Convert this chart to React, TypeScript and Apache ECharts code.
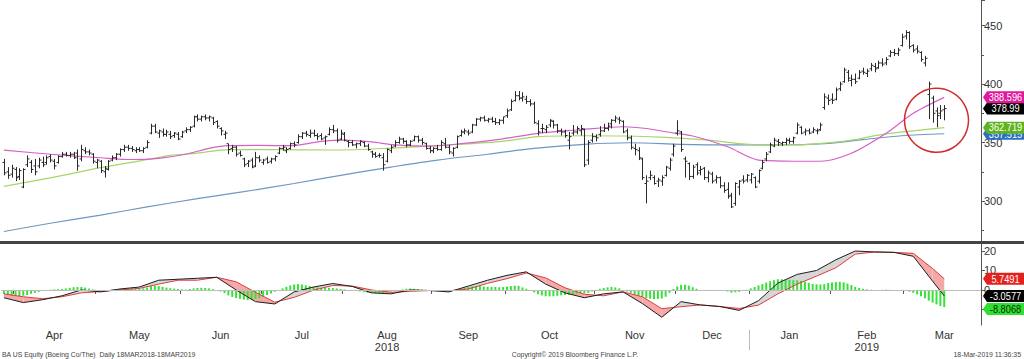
import React, { useEffect, useRef } from "react";
import * as echarts from "echarts";

// ---------- axis layout data ----------
const SLOT_COUNT = 253; // trading-day slots on the x axis (incl. blank space at right)
const monthStarts = [3, 24, 46, 67, 88, 111, 130, 153, 174, 193, 214, 233];
const monthNames = ["Apr", "May", "Jun", "Jul", "Aug", "Sep", "Oct", "Nov", "Dec", "Jan", "Feb", "Mar"];
const yearUnder: Record<string, string> = { Aug: "2018", Feb: "2019" };
const yearStartIndex = 193;

// ---------- daily OHLC bars [open, high, low, close] ----------
const bars: number[][] = [
  // Mar 2018
  [333,336,322,324],[325,329,319,322],[323,331,320,328],
  // Apr
  [327,329,317,320],[321,328,318,326],[312,328,311,327],[331,339,329,336],[333,335,324,327],
  [330,336,322,325],[330,337,328,335],[333,338,329,331],[333,339,331,337],[338,340,333,335],
  [334,336,327,330],[333,339,332,338],[338,342,337,340],[340,342,338,339],[339,342,337,340],
  [340,342,336,337],[341,344,326,330],[336,348,334,344],[343,346,340,342],[342,344,339,341],
  [340,341,332,334],
  // May
  [333,336,328,335],[334,335,324,326],[325,330,320,328],[327,335,326,334],
  [335,339,334,337],[337,341,335,340],[340,345,338,344],[344,348,342,346],[346,348,343,345],
  [345,347,342,344],[343,346,341,344],[344,346,342,343],[343,346,341,345],[346,352,345,350],
  [358,366,357,364],[364,366,358,359],[358,361,354,360],[359,362,355,357],[357,361,355,359],
  [357,360,353,355],[356,359,354,358],[357,359,352,353],
  // Jun
  [355,360,354,359],
  [360,363,358,361],[361,364,359,363],[364,373,363,372],[372,374,368,370],[370,373,368,372],
  [372,374,369,371],[371,373,368,372],[371,372,365,367],[368,369,362,364],[362,363,356,360],
  [357,360,353,358],[349,349,340,344],[345,348,342,346],[346,347,338,340],[341,343,338,339],
  [336,337,329,331],[332,335,329,334],[335,337,328,329],[330,342,329,337],[337,339,333,335],
  // Jul
  [333,336,331,335],[336,338,332,333],[334,337,332,336],[336,339,334,338],
  [341,346,340,345],[345,348,343,346],[343,346,341,344],[345,350,344,349],[349,351,346,348],
  [350,357,349,355],[355,359,353,358],[358,360,355,357],[356,361,354,358],[358,361,355,356],
  [356,358,352,355],[356,358,352,353],[354,356,348,355],[357,363,356,361],[361,365,358,360],
  [360,362,350,352],[353,361,352,358],
  // Aug
  [357,359,351,352],[351,352,346,350],[350,352,347,348],
  [348,350,345,349],[349,352,347,351],[350,351,346,347],[347,349,343,344],[342,343,337,340],
  [340,342,337,338],[339,341,337,339],[337,341,326,331],[334,345,333,344],[343,348,341,346],
  [347,352,346,350],[350,355,349,353],[353,354,349,351],[351,352,346,348],[348,352,347,351],
  [352,356,351,355],[355,356,350,352],[352,354,348,350],[349,350,344,345],[345,347,341,343],
  // Sep
  [343,346,341,345],[345,348,343,344],[344,352,343,350],[349,354,345,346],
  [346,348,340,342],[341,346,338,345],[346,356,345,355],[356,361,355,359],[359,362,357,360],
  [359,361,356,358],[359,366,358,365],[365,371,364,370],[370,372,368,371],[371,373,368,369],
  [369,371,367,370],[370,372,367,368],[368,371,365,367],[367,370,365,369],[369,372,366,372],
  // Oct
  [373,379,371,377],[378,387,377,385],[386,394,385,390],[390,394,386,388],[388,393,385,389],
  [387,390,383,385],[385,387,381,383],[383,385,366,367],[366,369,356,359],[362,366,358,362],
  [361,365,358,363],[365,370,363,369],[368,369,362,365],[365,366,358,360],[360,362,356,359],
  [359,361,354,356],[352,359,344,355],[358,365,356,359],[359,364,357,362],[360,365,356,362],
  [361,362,329,331],[335,352,331,350],[352,358,350,355],
  // Nov
  [355,357,351,354],[357,364,355,360],
  [360,366,359,362],[362,367,360,364],[366,370,362,369],[369,373,367,371],[370,372,366,369],
  [368,369,358,359],[360,362,352,354],[354,356,344,346],[345,349,339,344],[343,346,335,337],
  [336,337,318,320],[315,322,298,317],[320,326,318,322],[320,322,314,315],
  [317,320,312,318],[317,322,313,320],[322,330,321,329],[328,337,326,335],[340,349,338,347],
  // Dec
  [358,369,356,360],[359,360,342,344],[336,338,320,334],[332,333,318,321],
  [321,331,319,329],[331,333,322,324],[326,330,322,327],[328,329,318,320],[320,326,316,324],
  [323,325,315,317],[318,322,315,320],[320,321,311,313],[313,316,307,309],[310,316,302,304],
  [305,307,294,295],[298,316,296,315],[312,318,305,317],[318,322,315,317],
  [318,323,316,322],
  // Jan 2019
  [318,324,315,323],[320,321,311,312],[317,327,315,326],
  [328,335,327,333],[336,342,334,340],[342,350,341,348],[347,354,346,352],[351,353,347,350],
  [349,351,347,350],[350,354,348,352],[352,354,349,351],[351,355,349,354],[358,367,357,365],
  [363,364,357,358],[359,362,356,360],[360,362,357,358],[359,363,358,361],
  [360,362,357,360],[361,367,360,365],[380,392,378,389],[388,391,382,386],
  // Feb
  [387,392,383,386],
  [387,397,386,395],[396,402,394,400],[402,414,401,412],[410,412,402,405],[403,408,398,404],
  [404,409,400,402],[405,412,404,410],[411,414,408,410],[409,413,406,411],[413,418,411,416],
  [415,418,410,413],[414,420,413,418],[418,422,415,417],[418,423,416,421],
  [424,429,423,427],[427,430,424,426],[426,431,424,429],[433,443,432,440],
  // Mar
  [441,446,438,444],
  [444,445,430,432],[433,434,427,429],[430,433,426,428],[427,428,419,421],[418,424,415,422],
  [391,402,370,400],[388,390,367,375],[377,380,363,373],[375,382,370,377],[378,382,369,378.99],
];

// ---------- moving averages [dayIndex, value] ----------
const ma50Pts: number[][] = [
  [0,343.5],[12,340],[25,337],[33,335.5],[40,336.5],[47,340],[53,345],[58,347.3],[66,347.5],[74,347.3],
  [82,351],[88,352],[95,350.5],[101,348],[110,347],[119,349.3],[128,352.7],[138,357.9],[148,360.7],
  [160,363.5],[166,362],[171,359.2],[178,355.6],[187,346.4],[195,335],[204,334],[211,334],[219,340.8],
  [228,357.9],[235,375],[243,388.596],
];
const ma100Pts: number[][] = [
  [0,312.5],[13,320.5],[25,328.5],[38,336],[43,339],[50,341],[58,344],[70,344],[85,343.6],[99,345],
  [113,347.5],[128,350.7],[138,355],[150,355.8],[160,355.6],[171,354.4],[182,352.1],[195,348],[205,348],
  [213,349.8],[220,352.5],[226,356.4],[235,360],[243,362.719],
];
const ma200Pts: number[][] = [
  [0,274],[12,281],[25,288],[37,295],[50,302],[62,308],[75,315],[87,322],[100,329],[112,335],[125,340],
  [137,345],[150,348.5],[162,349.8],[175,348.5],[187,348],[200,348],[212,349],[222,352.5],[232,355.8],
  [243,357.515],
];

// ---------- MACD pane ----------
const macdPts: number[][] = [
  [0,-4],[5,-6.5],[10,-5],[15,-3],[20,0],[25,-1],[30,0.5],[35,1.5],[40,5],[45,5.5],[50,6],[55,6.5],
  [60,0],[65,-6],[70,-7.2],[75,-1],[80,1.5],[85,3.3],[90,1.8],[95,-1.5],[100,-2],[105,0],[110,-0.3],
  [115,-1],[120,2],[125,5],[130,7.5],[135,9.3],[140,3],[145,-1.5],[150,-4],[155,-2],[160,-1],[165,-7],
  [170,-14],[175,-6],[180,-7.7],[185,-8.5],[190,-10.5],[195,-5.5],[200,3.5],[205,8],[210,10],[215,15.5],
  [220,20],[225,19.5],[230,19.3],[235,17.3],[240,4.5],[243,-3.0577],
];
const signalPts: number[][] = [
  [0,-2],[5,-3.5],[10,-4.5],[15,-3.5],[20,-1.5],[25,-0.8],[30,0],[35,0.8],[40,3],[45,5],[50,5],[55,6.5],
  [60,4.2],[65,-1.2],[70,-6.3],[75,-3.8],[80,-0.1],[85,2.3],[90,2],[95,0],[100,-1.2],[105,-0.7],[110,-0.3],
  [115,-0.4],[120,0.5],[125,3.4],[130,5.8],[135,8.7],[140,6.2],[145,1.1],[150,-2.2],[155,-3],[160,-1],
  [165,-3.5],[170,-9.6],[175,-8.6],[180,-7.7],[185,-8.5],[190,-9.5],[195,-7.8],[200,-2],[205,3],[210,7.1],
  [215,11.4],[220,18.4],[225,19.5],[230,19.3],[235,18.8],[240,11],[243,5.7491],
];
const histogram: number[] = [
  -2,-2.5,-3,-3,-3.2, -3,-2.6,-2,-1.5,-1, -0.5,-0.2,0.1,0.3,0.4, 0.5,0.8,1.1,1.4,1.5,
  1.5,1.2,0.7,0.3,0, -0.2,-0.2,0,0.2,0.4, 0.5,0.6,0.6,0.7,0.7, 0.7,0.8,1.2,2,2.2,
  2,1.6,1.2,0.9,0.7, 0.5,0.3,0.2,0.5,0.8, 1,1.1,1,0.8,0.4, 0,-0.8,-1.6,-2.8,-3.6,
  -4.2,-4.6,-5,-5.2,-5.1, -4.8,-4.2,-3.5,-2.6,-1.8, -0.9,0,0.8,1.6,2.3, 2.8,3,2.8,2.4,2,
  1.6,1.3,1.1,1,1.1, 1,0.8,0.5,0.3,0, -0.2,-0.5,-0.8,-1.1,-1.4, -1.5,-1.6,-1.8,-1.9,-1.2,
  -0.8,-0.4,0,0.3,0.6, 0.7,0.6,0.4,0.2,0.1, 0,-0.1,-0.3,-0.4,-0.5, -0.6,-0.3,0.2,0.6,1.1,
  1.5,1.8,2,2,1.8, 1.6,1.6,1.5,1.4,1.5, 1.7,2,2.2,2.1,1.3, 0.6,0,-1.2,-2.2,-2.8,
  -3.2,-3.3,-3.2,-3,-2.8, -2.6,-2.5,-2.3,-2,-1.6, -1.8,-1.5,-0.8,0,0.6, 1,1.3,1.5,1.3,0.8,
  0,-0.8,-1.5,-2.4,-3, -3.5,-4.2,-4.5,-4.7,-4.6, -4.4,-3.5,-1.5,0.5,1.8, 2.6,2.7,2.2,1.4,0.6,
  0,-0.1,-0.2,-0.1,0, 0,-0.3,-0.8,-1.4,-1.2, -1,-0.5,0.1,0.8,1.5, 2.3,3,3.8,4.5,5,
  5.5,5.5,5.3,5.2,5, 5,4.7,4.2,3.6,3.1, 2.9,2.8,3,3.6,3.9, 4.1,4.2,3.9,3.3,2.5,
  1.6,1,0.6,0.3,0.1, 0,0,0.1,0.2,0.1, 0,0,-0.2,-0.5,-0.9, -1.5,-2.3,-3.2,-4.3,-5.5,
  -6.5,-7.4,-8.2,-8.8068,
];

// annotation circle (data coords)
const circleDay = 241;
const circlePrice = 369;

const FONT = '"Liberation Sans", Arial, sans-serif';
const PINK = "#f5a8a8";
const GRAY = "#d6d6d6";

export default function App() {
  const ref = useRef<HTMLDivElement>(null);

  useEffect(() => {
    const el = ref.current!;
    const chart = echarts.init(el, undefined, { renderer: "svg" });

    const cats = Array.from({ length: SLOT_COUNT }, (_, i) => String(i));
    const labelAt: Record<number, string> = {};
    monthStarts.forEach((s, k) => {
      const e = k + 1 < monthStarts.length ? monthStarts[k + 1] : SLOT_COUNT;
      const mid = Math.floor((s + e) / 2);
      const nm = monthNames[k];
      labelAt[mid] = yearUnder[nm] ? nm + "\n" + yearUnder[nm] : nm;
    });
    const tickSet = new Set(monthStarts);

    const ohlcData = bars.map((b, i) => [i, b[0], b[1], b[2], b[3]]);
    const segs: number[][] = [];
    for (let k = 0; k < macdPts.length - 1; k++) {
      segs.push([macdPts[k][0], macdPts[k][1], signalPts[k][1], macdPts[k + 1][0], macdPts[k + 1][1], signalPts[k + 1][1]]);
    }

    const axisLineStyle = { color: "#555", width: 1 };

    const option: any = {
      animation: false,
      backgroundColor: "#ffffff",
      grid: [
        { left: 2, right: 43, top: 0, height: 242 },
        { left: 2, right: 43, top: 244, height: 81 },
      ],
      xAxis: [
        { type: "category", gridIndex: 0, data: cats, boundaryGap: true, show: false },
        {
          type: "category", gridIndex: 1, data: cats, boundaryGap: true,
          axisLine: { show: true, lineStyle: axisLineStyle },
          axisTick: { show: true, interval: (i: number) => tickSet.has(i), length: 4, lineStyle: axisLineStyle },
          axisLabel: {
            interval: (i: number) => labelAt[i] !== undefined,
            formatter: (_v: string, i: number) => labelAt[i] ?? "",
            color: "#333", fontSize: 11, fontFamily: FONT, margin: 4, lineHeight: 12,
          },
          splitLine: { show: false },
        },
      ],
      yAxis: [
        {
          type: "value", gridIndex: 0, position: "right", min: 265, max: 471.8,
          minInterval: 50, maxInterval: 50, splitNumber: 4,
          splitLine: { show: false },
          axisLine: { show: true, lineStyle: axisLineStyle },
          axisTick: { show: true, length: 4, lineStyle: axisLineStyle },
          minorTick: { show: true, splitNumber: 2, length: 3, lineStyle: axisLineStyle },
          axisLabel: { color: "#333", fontSize: 11, fontFamily: FONT, margin: 3, showMinLabel: false, showMaxLabel: false },
        },
        {
          type: "value", gridIndex: 1, position: "right", min: -18, max: 23.6,
          minInterval: 10, maxInterval: 10, splitNumber: 4,
          splitLine: { show: false },
          axisLine: { show: true, lineStyle: axisLineStyle },
          axisTick: { show: true, length: 4, lineStyle: axisLineStyle },
          axisLabel: { color: "#333", fontSize: 11, fontFamily: FONT, margin: 3, showMinLabel: false, showMaxLabel: false },
        },
      ],
      series: [
        {
          type: "line", name: "MA200", xAxisIndex: 0, yAxisIndex: 0, data: ma200Pts,
          showSymbol: false, symbol: "none", smooth: 0.3, lineStyle: { color: "#6d98c2", width: 1.2 }, z: 2,
        },
        {
          type: "line", name: "MA100", xAxisIndex: 0, yAxisIndex: 0, data: ma100Pts,
          showSymbol: false, symbol: "none", smooth: 0.3, lineStyle: { color: "#a9d46b", width: 1.2 }, z: 2,
        },
        {
          type: "line", name: "MA50", xAxisIndex: 0, yAxisIndex: 0, data: ma50Pts,
          showSymbol: false, symbol: "none", smooth: 0.3, lineStyle: { color: "#d660c8", width: 1.2 }, z: 2,
        },
        {
          type: "custom", name: "OHLC", xAxisIndex: 0, yAxisIndex: 0, data: ohlcData, clip: true, z: 5,
          encode: { x: 0, y: [1, 2, 3, 4] },
          renderItem: (_p: any, api: any) => {
            const i = api.value(0);
            const o = api.coord([i, api.value(1)]);
            const h = api.coord([i, api.value(2)]);
            const l = api.coord([i, api.value(3)]);
            const c = api.coord([i, api.value(4)]);
            const x = Math.round(h[0]) + 0.5;
            const st = { stroke: "#2a2a2a", lineWidth: 1 };
            return {
              type: "group",
              children: [
                { type: "line", shape: { x1: x, y1: h[1], x2: x, y2: l[1] }, style: st },
                { type: "line", shape: { x1: x - 2, y1: o[1], x2: x, y2: o[1] }, style: st },
                { type: "line", shape: { x1: x, y1: c[1], x2: x + 2, y2: c[1] }, style: st },
              ],
            };
          },
        },
        {
          type: "custom", name: "MACD fill", xAxisIndex: 1, yAxisIndex: 1, data: segs, clip: true, z: 2,
          encode: { x: [0, 3], y: [1, 2, 4, 5] },
          renderItem: (_p: any, api: any) => {
            const i0 = api.value(0), m0 = api.value(1), s0 = api.value(2);
            const i1 = api.value(3), m1 = api.value(4), s1 = api.value(5);
            const M0 = api.coord([i0, m0]), S0 = api.coord([i0, s0]);
            const M1 = api.coord([i1, m1]), S1 = api.coord([i1, s1]);
            const d0 = m0 - s0, d1 = m1 - s1;
            const col = (d: number) => (d >= 0 ? GRAY : PINK);
            if (d0 * d1 >= 0) {
              return { type: "polygon", shape: { points: [M0, M1, S1, S0] }, style: { fill: col(d0 + d1) } };
            }
            const t = d0 / (d0 - d1);
            const X = [M0[0] + t * (M1[0] - M0[0]), M0[1] + t * (M1[1] - M0[1])];
            return {
              type: "group",
              children: [
                { type: "polygon", shape: { points: [M0, X, S0] }, style: { fill: col(d0) } },
                { type: "polygon", shape: { points: [X, M1, S1] }, style: { fill: col(d1) } },
              ],
            };
          },
        },
        {
          type: "bar", name: "Histogram", xAxisIndex: 1, yAxisIndex: 1, data: histogram, barWidth: 2, z: 3,
          itemStyle: { color: "#36e236" },
          markLine: {
            silent: true, symbol: ["none", "none"], label: { show: false },
            lineStyle: { color: "#bdbdbd", width: 1, type: "solid" },
            data: [{ yAxis: 0 }],
          },
        },
        {
          type: "line", name: "Signal", xAxisIndex: 1, yAxisIndex: 1, data: signalPts,
          showSymbol: false, symbol: "none", lineStyle: { color: "#e03c3c", width: 1 }, z: 4,
        },
        {
          type: "line", name: "MACD", xAxisIndex: 1, yAxisIndex: 1, data: macdPts,
          showSymbol: false, symbol: "none", lineStyle: { color: "#1e1e1e", width: 1 }, z: 4,
        },
      ],
    };

    chart.setOption(option);

    const py = (v: number) => chart.convertToPixel({ yAxisIndex: 0 } as any, v) as number;
    const my = (v: number) => chart.convertToPixel({ yAxisIndex: 1 } as any, v) as number;

    const TAG_X = 983, TAG_W = 41, TAG_H = 12;
    let tagOrder = 0;
    const tag = (y: number, bg: string, fg: string, text: string) => {
      const zb = 100 + 2 * tagOrder++;
      return {
        type: "group", x: TAG_X, y, z: zb,
        children: [
          {
            type: "polygon", z: zb,
            shape: { points: [[0, 0], [4, -TAG_H / 2], [TAG_W, -TAG_H / 2], [TAG_W, TAG_H / 2], [4, TAG_H / 2]] },
            style: { fill: bg },
          },
          {
            type: "text", x: TAG_W / 2 + 2, y: 0, scaleX: 0.84, z: zb + 1,
            style: { text, fill: fg, font: `11px ${FONT}`, align: "center", verticalAlign: "middle", textAlign: "center", textVerticalAlign: "middle" },
          },
        ],
      };
    };

    const last = (a: number[][]) => a[a.length - 1][1];
    const lastClose = bars[bars.length - 1][3];
    const lastMacd = last(macdPts), lastSignal = last(signalPts), lastHist = histogram[histogram.length - 1];

    // MACD tags with simple overlap resolution
    const mt = [
      { v: lastSignal, bg: "#e3211c", fg: "#fff", t: lastSignal.toFixed(4) },
      { v: lastMacd, bg: "#000", fg: "#fff", t: lastMacd.toFixed(4) },
      { v: lastHist, bg: "#2fe02f", fg: "#0b2a0b", t: lastHist.toFixed(4) },
    ].map((d) => ({ ...d, y: my(d.v) })).sort((a, b) => a.y - b.y);
    for (let k = 1; k < mt.length; k++) if (mt[k].y - mt[k - 1].y < 13) mt[k].y = mt[k - 1].y + 13;

    const band = 979 / SLOT_COUNT;
    const yearX = Math.round((chart.convertToPixel({ xAxisIndex: 1 } as any, yearStartIndex) as number) - band / 2) + 0.5;
    const circ = chart.convertToPixel({ gridIndex: 0 } as any, [circleDay, circlePrice]) as number[];

    const footer = (x: number, text: string, align: string) => ({
      type: "text", x, y: 354, scaleX: 0.86, z: 50,
      style: { text, fill: "#444", font: `8px ${FONT}`, align, textAlign: align, verticalAlign: "middle", textVerticalAlign: "middle" },
    });

    const priceTags = [
      tag(py(last(ma200Pts)), "#2a6fc0", "#fff", last(ma200Pts).toFixed(3)),
      tag(py(last(ma100Pts)), "#5fb31f", "#fff", last(ma100Pts).toFixed(3)),
      tag(py(lastClose), "#000", "#fff", lastClose.toFixed(2)),
      tag(py(last(ma50Pts)), "#e0189c", "#fff", last(ma50Pts).toFixed(3)),
    ];
    const macdTags = mt.map((d) => tag(d.y, d.bg, d.fg, d.t));

    const graphic: any[] = [
      { type: "rect", shape: { x: 0, y: 241, width: 1024, height: 3 }, style: { fill: "#444" }, z: 90 },
      { type: "circle", shape: { cx: circ[0], cy: circ[1], r: 32 }, style: { fill: "none", stroke: "#d42a2a", lineWidth: 1.5 }, z: 95 },
      { type: "line", shape: { x1: yearX, y1: 330, x2: yearX, y2: 350 }, style: { stroke: "#bbb", lineWidth: 1 }, z: 10 },
      ...priceTags,
      ...macdTags,
      footer(2, "BA US Equity (Boeing Co/The)  Daily 18MAR2018-18MAR2019", "left"),
      footer(575, "Copyright\u00a9 2019 Bloomberg Finance L.P.", "center"),
      footer(1021, "18-Mar-2019 11:36:35", "right"),
    ];
    chart.setOption({ graphic });

    return () => chart.dispose();
  }, []);

  return (
    <div
      ref={ref}
      style={{ position: "absolute", left: 0, top: 0, width: 1024, height: 359, background: "#fff" }}
    />
  );
}
